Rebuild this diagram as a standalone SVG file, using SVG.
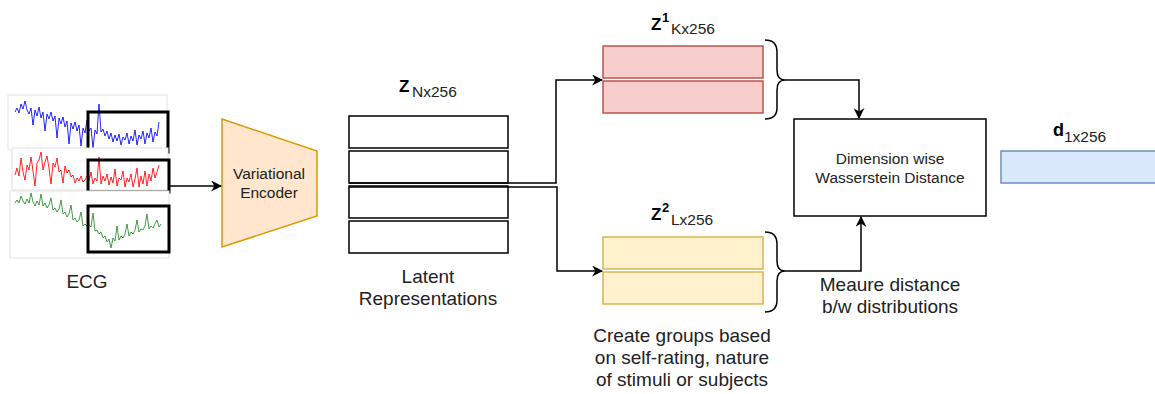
<svg xmlns="http://www.w3.org/2000/svg" width="1155" height="394" viewBox="0 0 1155 394">
<defs>
<marker id="ah" viewBox="0 0 10 10" refX="9" refY="5" markerWidth="11" markerHeight="11" markerUnits="userSpaceOnUse" orient="auto">
<path d="M0,0 L10,5 L0,10 L3,5 Z" fill="#000"/>
</marker>
<style>
text{font-family:"Liberation Sans",Arial,sans-serif;fill:#222}
.lbl{font-size:19px;text-anchor:middle}
.mid{font-size:15.5px;text-anchor:middle}
.big{font-weight:bold;font-size:18px;fill:#000}
.sub{font-size:15.5px}
.conn{fill:none;stroke:#000;stroke-width:1.5}
.lat{fill:#fff;stroke:#000;stroke-width:1.5}
.red{fill:#f8cecc;stroke:#b85450;stroke-width:1.5}
.yel{fill:#fff2cc;stroke:#d6b656;stroke-width:1.5}
.blu{fill:#dae8fc;stroke:#6c8ebf;stroke-width:1.5}
.panel{fill:#fff;stroke:#e2e2e2;stroke-width:1}
.sig{fill:none;stroke-width:1;stroke-linejoin:round;opacity:0.85}
.win{fill:none;stroke:#000;stroke-width:3}
</style>
</defs>

<g id="ecg">
<rect class="panel" x="8" y="95" width="159" height="55"/>
<polyline class="sig" stroke="#0000ff" points="15,112 17,108 19,113 21,104 23,109 25,101 27,110 29,114 31,108 33,125 35,110 37,116 39,107 41,118 43,112 45,131 47,114 49,119 51,112 53,121 55,116 57,138 59,118 61,124 63,117 65,127 67,121 69,144 71,123 73,129 75,122 77,131 79,125 81,146 83,128 85,133 87,120 89,131 91,128 93,148 95,130 97,134 99,104 101,132 103,129 105,136 107,131 109,139 111,133 113,142 115,135 117,141 119,134 121,145 123,137 125,140 127,133 129,144 131,136 133,141 135,130 137,145 139,135 141,139 143,131 145,144 147,133 149,138 151,128 153,142 155,132 157,136 159,122"/>
<rect class="win" x="88" y="112" width="80" height="40"/>
<rect class="panel" x="12" y="148" width="156" height="42"/>
<polyline class="sig" stroke="#ff0000" points="15,175 17,168 19,176 21,158 23,172 25,180 27,165 29,170 31,157 33,171 35,186 37,163 39,160 41,152 43,170 45,162 47,156 49,168 51,184 53,163 55,167 57,158 59,172 61,170 63,183 65,166 67,173 69,170 71,177 73,175 75,183 77,178 79,181 81,176 83,182 85,180 87,176 89,181 91,172 93,184 95,178 97,181 99,157 101,184 103,176 105,181 107,174 109,185 111,177 113,183 115,169 117,186 119,178 121,180 123,171 125,187 127,178 129,182 131,174 133,187 135,179 137,168 139,187 141,176 143,184 145,171 147,186 149,174 151,181 153,168 155,178 157,172 159,165"/>
<rect class="win" x="88" y="160" width="81" height="32"/>
<rect class="panel" x="10" y="191" width="159" height="67"/>
<polyline class="sig" stroke="#228b22" points="15,203 17,200 19,203 21,196 23,201 25,204 27,199 29,203 31,193 33,202 35,206 37,201 39,205 41,194 43,206 45,203 47,208 49,205 51,198 53,210 55,208 57,212 59,209 61,200 63,214 65,212 67,217 69,214 71,205 73,220 75,218 77,222 79,220 81,212 83,226 85,224 87,226 89,225 91,227 93,213 95,231 97,230 99,234 101,232 103,238 105,236 107,242 109,239 111,248 113,238 115,241 117,226 119,240 121,236 123,238 125,234 127,224 129,236 131,232 133,234 135,230 137,220 139,232 141,229 143,230 145,226 147,214 149,229 151,226 153,228 155,224 157,220 159,227 161,224"/>
<rect class="win" x="88" y="206" width="81" height="46"/>
<text class="lbl" x="87" y="288">ECG</text>
</g>

<g id="encoder">
<polygon points="222,119 317,151 317,216 222,247" fill="#ffe6cc" stroke="#d79b00" stroke-width="1.5"/>
<text class="mid" x="269" y="179">Variational</text>
<text class="mid" x="269" y="198">Encoder</text>
</g>

<g id="latent">
<text class="big" x="399" y="92" style="font-size:17px">Z</text>
<text class="sub" x="412" y="97">Nx256</text>
<rect class="lat" x="349" y="116" width="159" height="32"/>
<rect class="lat" x="349" y="151" width="159" height="32"/>
<rect class="lat" x="349" y="186" width="159" height="32"/>
<rect class="lat" x="349" y="221" width="159" height="32"/>
<text class="lbl" x="428" y="283">Latent</text>
<text class="lbl" x="428" y="305">Representations</text>
</g>

<g id="z1">
<text class="big" x="651" y="30" style="font-size:17px">Z</text>
<text class="big" x="662" y="22" style="font-size:13px">1</text>
<text class="sub" x="671" y="34">Kx256</text>
<rect class="red" x="603" y="46" width="160" height="32"/>
<rect class="red" x="603" y="81" width="160" height="32"/>
</g>

<g id="z2">
<text class="big" x="651" y="220" style="font-size:17px">Z</text>
<text class="big" x="662" y="212" style="font-size:13px">2</text>
<text class="sub" x="671" y="225">Lx256</text>
<rect class="yel" x="603" y="237" width="160" height="32"/>
<rect class="yel" x="603" y="272" width="160" height="32"/>
<text class="lbl" x="682" y="342">Create groups based</text>
<text class="lbl" x="682" y="364">on self-rating, nature</text>
<text class="lbl" x="682" y="386">of stimuli or subjects</text>
</g>

<g id="wasserstein">
<rect x="794" y="119" width="192" height="97" fill="#fff" stroke="#000" stroke-width="1.5"/>
<text class="mid" x="890" y="164">Dimension wise</text>
<text class="mid" x="890" y="183">Wasserstein Distance</text>
</g>

<g id="d">
<text class="big" x="1053" y="136">d</text>
<text class="sub" x="1064" y="142">1x256</text>
<rect class="blu" x="1001" y="151" width="170" height="32"/>
</g>

<g id="connectors">
<line class="conn" x1="169" y1="186" x2="221" y2="186" marker-end="url(#ah)"/>
<polyline class="conn" points="349,183 556,183 556,80 602,80" marker-end="url(#ah)"/>
<polyline class="conn" points="349,187 557,187 557,271 602,271" marker-end="url(#ah)"/>
<path class="conn" d="M765,40 Q777,40 777,52 L777,70 Q777,80 785,80 Q777,80 777,90 L777,108 Q777,119 765,119"/>
<polyline class="conn" points="785,80 859,80 859,118" marker-end="url(#ah)"/>
<path class="conn" d="M765,232 Q777,232 777,244 L777,261 Q777,271 785,271 Q777,271 777,281 L777,300 Q777,312 765,312"/>
<polyline class="conn" points="785,271 861,271 861,217" marker-end="url(#ah)"/>
<text class="lbl" x="890" y="291">Meaure distance</text>
<text class="lbl" x="890" y="313">b/w distributions</text>
</g>
</svg>
